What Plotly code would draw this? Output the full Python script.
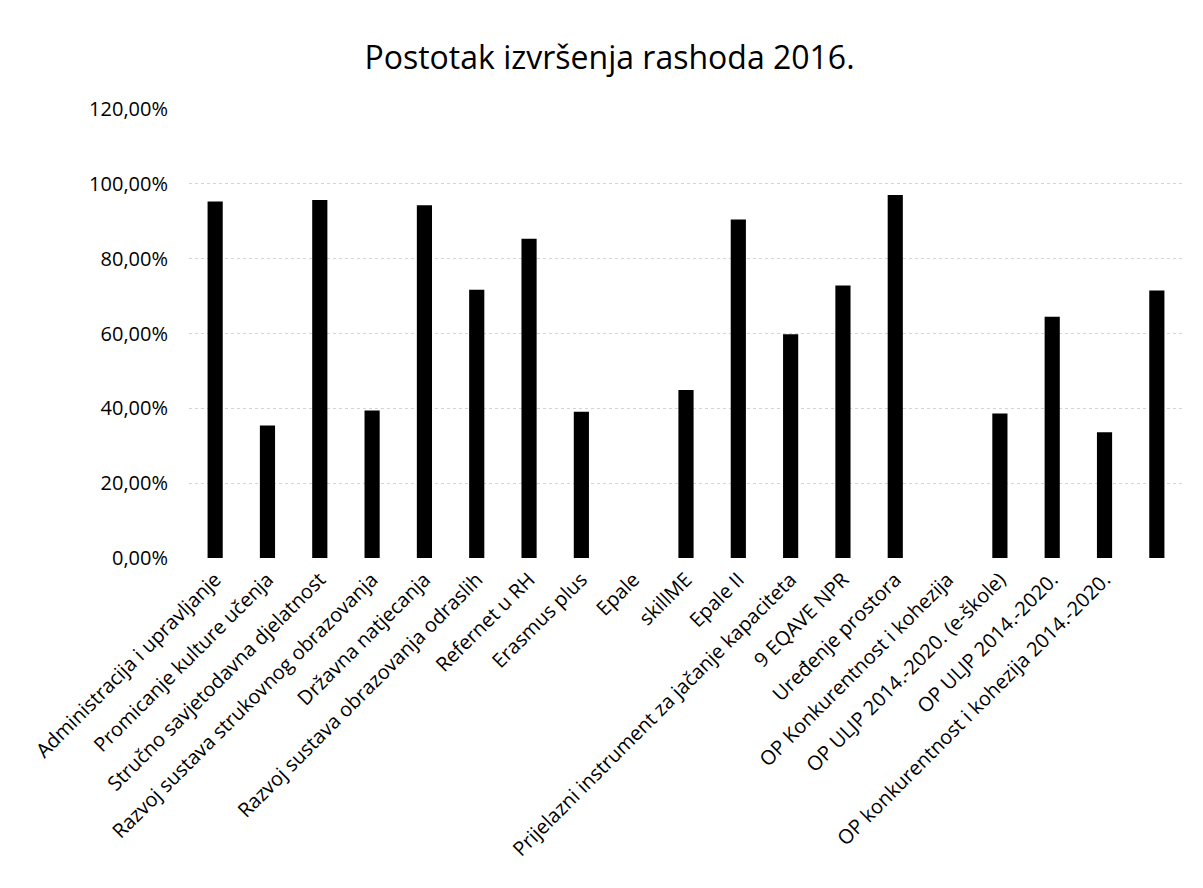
import plotly.graph_objects as go

categories = [
    "Administracija i upravljanje",
    "Promicanje kulture učenja",
    "Stručno savjetodavna djelatnost",
    "Razvoj sustava strukovnog obrazovanja",
    "Državna natjecanja",
    "Razvoj sustava obrazovanja odraslih",
    "Refernet u RH",
    "Erasmus plus",
    "Epale",
    "skillME",
    "Epale II",
    "Prijelazni instrument za jačanje kapaciteta",
    "9 EQAVE NPR",
    "Uređenje prostora",
    "OP Konkurentnost i kohezija",
    "OP ULJP 2014.-2020. (e-škole)",
    "OP ULJP 2014.-2020.",
    "OP konkurentnost i kohezija 2014.-2020.",
    "",
]

# postotak izvršenja (udio)
execution = [0.953, 0.354, 0.957, 0.394, 0.943, 0.717, 0.853, 0.391, 0.0,
             0.449, 0.905, 0.598, 0.728, 0.970, 0.0, 0.386, 0.645, 0.336, 0.715]

y_ticks = [0, 0.2, 0.4, 0.6, 0.8, 1.0, 1.2]

positions = list(range(len(categories)))

fig = go.Figure(go.Bar(
    x=positions,
    y=execution,
    marker_color="black",
    marker_line_width=0,
))

fig.update_layout(
    title=dict(text="Postotak izvršenja rashoda 2016.", x=0.5, xanchor="center",
               y=0.944, yanchor="middle", font=dict(size=32, color="black")),
    font=dict(family="Open Sans", size=20, color="black"),
    separators=",.",
    width=1203, height=888,
    margin=dict(l=181, r=28, t=101, b=338),
    plot_bgcolor="white", paper_bgcolor="white",
    bargap=0.71,
    showlegend=False,
)
fig.update_xaxes(
    tickmode="array", tickvals=positions, ticktext=categories,
    tickangle=-45, range=[-0.5, len(categories) - 0.5],
    showgrid=False, showline=False, ticks="", ticklabelstandoff=5,
    automargin=False,
)
fig.update_yaxes(
    range=[0, 1.2], tickvals=y_ticks, tickformat=".2%",
    showgrid=True, gridcolor="#d4d4d4", griddash="dot", gridwidth=1,
    zeroline=False, showline=False, ticks="", ticklabelstandoff=20,
    automargin=False,
)

fig.write_html("out.html")
